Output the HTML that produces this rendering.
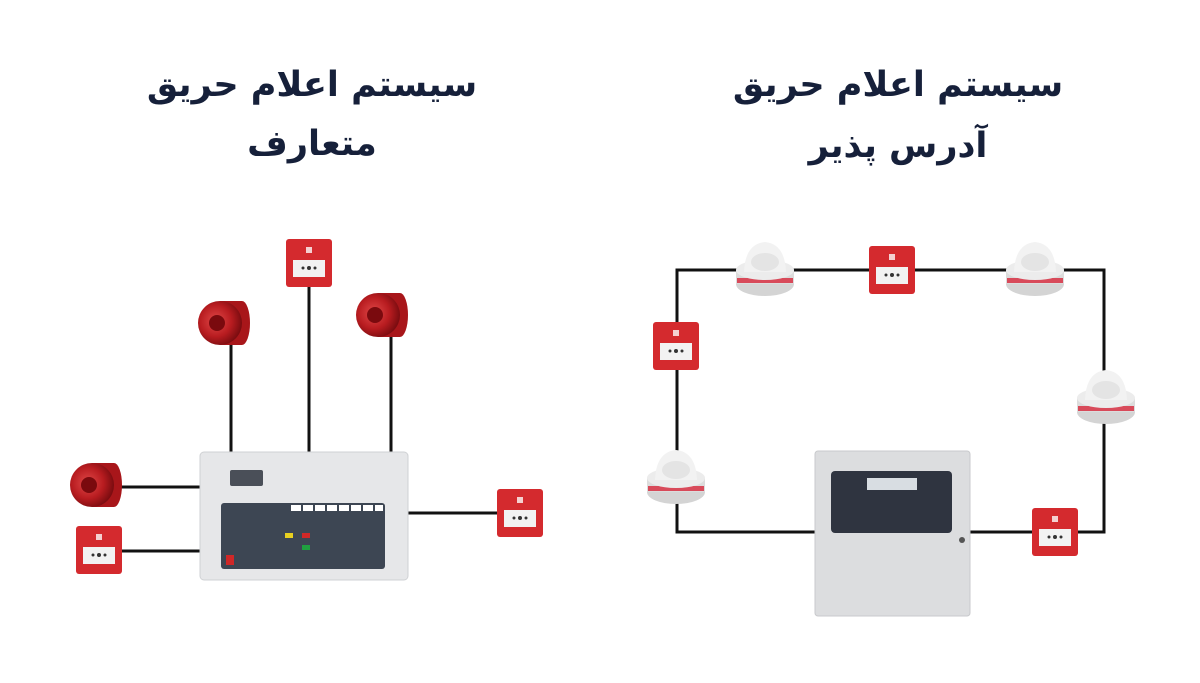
<!DOCTYPE html>
<html><head><meta charset="utf-8"><style>
html,body{margin:0;padding:0;background:#fff;width:1200px;height:683px;overflow:hidden}
.t{position:absolute;font-family:"DejaVu Sans","Noto Sans CJK SC",sans-serif;font-weight:bold;color:#16203a;font-size:35px;direction:rtl;text-align:center;width:500px}
</style></head><body>
<div class="t" style="left:62px;top:65px">سیستم اعلام حریق</div>
<div class="t" style="left:62px;top:124px">متعارف</div>
<div class="t" style="left:648px;top:65px">سیستم اعلام حریق</div>
<div class="t" style="left:648px;top:126px">آدرس پذیر</div>
<svg width="1200" height="683" style="position:absolute;left:0;top:0">
<defs>
<radialGradient id="sg" cx="0.4" cy="0.45" r="0.6"><stop offset="0" stop-color="#e04848"/><stop offset="0.6" stop-color="#b81c20"/><stop offset="1" stop-color="#7a0c10"/></radialGradient>
<g id="cp"><rect x="-23" y="-24" width="46" height="48" rx="3" fill="#d42a2e"/><rect x="-16" y="-3" width="32" height="17" fill="#f2f2f2"/><circle cx="0" cy="5" r="2" fill="#333"/><circle cx="-6" cy="5" r="1.5" fill="#333"/><circle cx="6" cy="5" r="1.5" fill="#333"/><rect x="-3" y="-16" width="6" height="6" fill="#f4d0d0"/></g>
<g id="det"><ellipse cx="0" cy="14" rx="29" ry="12" fill="#d4d4d4"/><rect x="-29" y="0" width="58" height="14" fill="#dcdcdc"/><rect x="-28" y="8" width="56" height="5" fill="#d84a5a"/><ellipse cx="0" cy="0" rx="29" ry="10" fill="#ececec"/><path d="M-21 2 Q-20 -26 0 -28 Q20 -26 21 2 Z" fill="#f2f2f2"/><ellipse cx="0" cy="-8" rx="14" ry="9" fill="#e4e4e4"/></g>
<g id="snd"><path d="M0 -22 L22 -22 A8 22 0 0 1 22 22 L0 22 Z" fill="#a8161a"/><circle cx="0" cy="0" r="22" fill="url(#sg)"/><circle cx="-3" cy="0" r="8" fill="#7a0a0e"/></g>
</defs>
<g stroke="#111" stroke-width="3" fill="none">
<line x1="231" y1="345" x2="231" y2="452"/><line x1="309" y1="285" x2="309" y2="452"/><line x1="391" y1="335" x2="391" y2="452"/>
<line x1="120" y1="487" x2="200" y2="487"/><line x1="120" y1="551" x2="200" y2="551"/><line x1="408" y1="513" x2="500" y2="513"/>
<polyline points="815,532 677,532 677,270 1104,270 1104,532 970,532"/>
</g>
<rect x="200" y="452" width="208" height="128" rx="4" fill="#e6e7e9" stroke="#cfd1d4"/>
<rect x="230" y="470" width="33" height="16" rx="2" fill="#4a4f58"/>
<rect x="221" y="503" width="164" height="66" rx="3" fill="#3d4653"/>
<g fill="#fff"><rect x="291" y="505" width="10" height="6"/><rect x="303" y="505" width="10" height="6"/><rect x="315" y="505" width="10" height="6"/><rect x="327" y="505" width="10" height="6"/><rect x="339" y="505" width="10" height="6"/><rect x="351" y="505" width="10" height="6"/><rect x="363" y="505" width="10" height="6"/><rect x="375" y="505" width="8" height="6"/></g>
<rect x="285" y="533" width="8" height="5" fill="#e8d020"/><rect x="302" y="533" width="8" height="5" fill="#d02828"/><rect x="302" y="545" width="8" height="5" fill="#20a040"/><rect x="226" y="555" width="8" height="10" fill="#d02828"/>
<rect x="815" y="451" width="155" height="165" rx="3" fill="#dcdddf" stroke="#c8c9cc"/>
<rect x="831" y="471" width="121" height="62" rx="4" fill="#2f3440"/>
<rect x="867" y="478" width="50" height="12" fill="#d8dde2"/>
<circle cx="962" cy="540" r="3" fill="#555"/>
<use href="#snd" x="220" y="323"/><use href="#snd" x="378" y="315"/><use href="#snd" x="92" y="485"/>
<use href="#cp" x="309" y="263"/><use href="#cp" x="99" y="550"/><use href="#cp" x="520" y="513"/>
<use href="#cp" x="892" y="270"/><use href="#cp" x="676" y="346"/><use href="#cp" x="1055" y="532"/>
<use href="#det" x="765" y="270"/><use href="#det" x="1035" y="270"/><use href="#det" x="1106" y="398"/><use href="#det" x="676" y="478"/>
</svg>
</body></html>
